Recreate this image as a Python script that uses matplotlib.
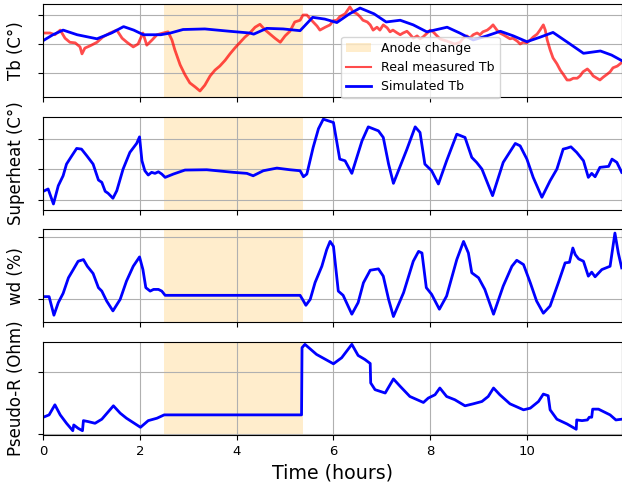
import matplotlib
matplotlib.use("Agg")
import matplotlib.pyplot as plt
import numpy as np

# anode change window (hours)
anode_start, anode_end = 2.5, 5.36

# Tb measured (red)
t_tb_real = [0, 0.14, 0.24, 0.35, 0.45, 0.55, 0.66, 0.76, 0.80, 0.86, 0.97, 1.11, 1.23, 1.38, 1.52,
             1.63, 1.73, 1.86, 1.96, 2.06, 2.14, 2.25, 2.35, 2.48, 2.58, 2.66, 2.72, 2.83, 2.93, 3.03,
             3.14, 3.24, 3.34, 3.45, 3.55, 3.65, 3.76, 3.86, 3.96, 4.07, 4.17, 4.27, 4.38, 4.48, 4.59,
             4.69, 4.79, 4.90, 5.00, 5.10, 5.20, 5.31, 5.37, 5.45, 5.58, 5.66, 5.72, 5.83, 5.93, 5.99,
             6.07, 6.13, 6.24, 6.34, 6.41, 6.49, 6.55, 6.61, 6.70, 6.76, 6.82, 6.90, 6.96, 7.03, 7.11,
             7.17, 7.23, 7.32, 7.38, 7.44, 7.52, 7.58, 7.65, 7.73, 7.79, 7.85, 7.94, 8.00, 8.06, 8.14,
             8.20, 8.27, 8.35, 8.41, 8.51, 8.62, 8.68, 8.76, 8.82, 8.89, 8.97, 9.03, 9.09, 9.18, 9.24,
             9.30, 9.38, 9.44, 9.51, 9.59, 9.65, 9.71, 9.80, 9.86, 9.92, 10.00, 10.07, 10.13, 10.21, 10.27,
             10.34, 10.38, 10.42, 10.48, 10.54, 10.62, 10.69, 10.75, 10.83, 10.89, 10.96, 11.04, 11.10, 11.16, 11.25,
             11.31, 11.37, 11.45, 11.51, 11.58, 11.66, 11.72, 11.78, 11.87, 11.93, 11.97]
tb_real = [961.9, 961.9, 961.6, 962.4, 961.0, 960.3, 960.2, 959.5, 958.3, 959.3, 959.7, 960.3, 961.2, 961.9, 962.4,
           961.0, 960.3, 959.5, 960.0, 961.9, 959.8, 960.7, 961.6, 961.9, 962.1, 960.7, 959.0, 956.4, 954.7, 953.3,
           952.6, 951.9, 952.9, 954.5, 955.5, 956.2, 957.2, 958.3, 959.3, 960.3, 961.2, 961.9, 962.9, 963.4, 962.4,
           961.7, 961.0, 960.3, 961.4, 962.2, 963.8, 964.1, 965.0, 965.0, 963.8, 963.1, 962.4, 962.9, 963.3, 964.0,
           964.1, 964.7, 965.2, 966.4, 965.5, 965.2, 964.7, 964.1, 963.8, 963.3, 962.4, 962.9, 962.4, 963.3, 962.8,
           962.1, 962.4, 961.9, 961.6, 961.9, 962.2, 961.7, 961.0, 961.4, 960.9, 961.2, 961.9, 962.4, 962.1, 961.4,
           960.9, 960.7, 960.5, 960.3, 960.0, 960.3, 961.0, 961.4, 961.0, 961.6, 961.9, 961.6, 962.1, 962.4, 962.8,
           963.3, 962.4, 961.9, 961.6, 961.2, 960.9, 961.0, 960.5, 960.0, 960.3, 960.2, 960.7, 961.2, 961.7, 962.4,
           963.3, 962.4, 960.7, 959.0, 957.6, 956.6, 955.5, 954.8, 953.8, 953.8, 954.1, 954.1, 954.5, 955.2, 955.7,
           955.2, 954.5, 954.1, 953.8, 954.3, 954.8, 955.2, 955.9, 956.2, 956.6, 956.9]

# Tb simulated (blue)
t_tb_sim = [0, 0.20, 0.41, 0.70, 1.11, 1.41, 1.66, 1.87, 2.07, 2.43, 2.63, 2.89, 3.34, 3.85, 4.27,
            4.35, 4.62, 4.96, 5.31, 5.57, 5.82, 6.07, 6.33, 6.55, 6.84, 7.09, 7.38, 7.65, 7.93, 8.35,
            8.61, 8.89, 9.17, 9.45, 9.72, 10.00, 10.28, 10.54, 10.84, 11.17, 11.52, 11.75, 11.97]
tb_sim = [960.6, 961.6, 962.4, 961.6, 960.9, 961.9, 963.0, 962.4, 961.6, 961.6, 961.9, 962.5, 962.6, 962.2, 961.9,
          961.7, 962.7, 962.6, 962.3, 964.6, 964.3, 963.7, 965.2, 966.2, 965.2, 963.8, 964.1, 963.3, 962.1, 962.9,
          961.9, 960.7, 961.4, 962.2, 961.4, 960.4, 961.2, 962.0, 960.3, 958.4, 958.8, 958.1, 957.1]

# superheat
t_sh = [0, 0.10, 0.21, 0.31, 0.41, 0.48, 0.59, 0.69, 0.79, 0.90, 1.03, 1.14, 1.21, 1.28, 1.34,
        1.44, 1.52, 1.65, 1.79, 1.93, 1.99, 2.04, 2.10, 2.17, 2.24, 2.31, 2.38, 2.45, 2.52, 2.69,
        2.93, 3.38, 3.93, 4.21, 4.34, 4.55, 4.83, 5.10, 5.31, 5.38, 5.45, 5.58, 5.69, 5.79, 6.00,
        6.13, 6.24, 6.38, 6.59, 6.72, 6.93, 7.03, 7.14, 7.24, 7.52, 7.69, 7.79, 7.89, 8.03, 8.17,
        8.34, 8.55, 8.72, 8.86, 8.96, 9.07, 9.29, 9.51, 9.76, 9.86, 10.00, 10.13, 10.31, 10.48, 10.62,
        10.75, 10.83, 10.91, 11.03, 11.17, 11.27, 11.34, 11.41, 11.51, 11.69, 11.76, 11.86, 11.96]
superheat = [6.41, 6.79, 4.35, 7.32, 8.94, 10.84, 12.19, 13.39, 13.28, 12.19, 10.84, 8.25, 7.87, 6.41, 6.09,
             5.28, 6.51, 10.03, 12.74, 14.20, 15.27, 11.38, 9.76, 9.06, 9.50, 9.33, 9.59, 9.22, 8.68, 9.22,
             9.87, 9.92, 9.50, 9.33, 8.94, 9.76, 10.19, 9.92, 9.76, 8.78, 9.22, 13.55, 16.6, 18.15, 17.61,
             11.65, 11.38, 9.33, 14.62, 16.90, 16.25, 15.18, 10.84, 7.71, 13.28, 16.90, 15.99, 10.84, 9.76, 7.60,
             11.38, 15.71, 15.18, 11.93, 11.12, 10.03, 5.70, 11.12, 14.20, 13.81, 11.65, 8.68, 5.44, 8.13, 10.03,
             13.28, 13.44, 13.65, 12.74, 11.38, 8.68, 9.33, 8.78, 10.31, 10.47, 11.65, 11.12, 9.50]

# wd
t_wd = [0, 0.12, 0.22, 0.31, 0.41, 0.52, 0.62, 0.72, 0.83, 0.91, 1.03, 1.14, 1.21, 1.31, 1.44,
        1.59, 1.72, 1.86, 1.99, 2.06, 2.12, 2.21, 2.28, 2.38, 2.45, 2.52, 5.31, 5.38, 5.43, 5.52,
        5.62, 5.76, 5.86, 5.93, 6.00, 6.10, 6.20, 6.38, 6.51, 6.62, 6.76, 6.93, 7.03, 7.14, 7.24,
        7.45, 7.65, 7.76, 7.83, 7.92, 8.03, 8.19, 8.34, 8.55, 8.69, 8.79, 8.86, 9.00, 9.13, 9.31,
        9.51, 9.69, 9.79, 9.93, 10.07, 10.20, 10.34, 10.48, 10.65, 10.79, 10.88, 10.95, 11.00, 11.07, 11.17,
        11.27, 11.34, 11.41, 11.55, 11.72, 11.82, 11.89, 11.96]
wd = [0.043, 0.043, -0.255, -0.053, 0.096, 0.346, 0.478, 0.611, 0.638, 0.531, 0.415, 0.187, 0.132, -0.027, -0.186,
      0.0, 0.292, 0.531, 0.681, 0.478, 0.187, 0.132, 0.159, 0.159, 0.132, 0.064, 0.064, -0.027, -0.096, 0.0,
      0.27, 0.531, 0.797, 0.930, 0.850, 0.132, 0.064, -0.239, -0.053, 0.266, 0.467, 0.489, 0.372, 0.0, -0.276,
      0.107, 0.611, 0.770, 0.744, 0.187, 0.080, -0.159, 0.053, 0.638, 0.930, 0.744, 0.426, 0.346, 0.159, -0.239,
      0.212, 0.531, 0.627, 0.558, 0.266, -0.027, -0.223, -0.107, 0.266, 0.585, 0.595, 0.824, 0.718, 0.649, 0.611,
      0.372, 0.436, 0.362, 0.478, 0.531, 1.064, 0.744, 0.505]

# pseudo resistance
t_pr = [0, 0.12, 0.24, 0.35, 0.48, 0.61, 0.63, 0.72, 0.81, 0.83, 0.93, 1.07, 1.21, 1.45, 1.59,
        1.72, 2.01, 2.17, 2.35, 2.50, 5.34, 5.35, 5.41, 5.65, 6.00, 6.17, 6.38, 6.51, 6.65, 6.76,
        6.77, 6.86, 7.07, 7.24, 7.38, 7.58, 7.86, 7.96, 8.10, 8.20, 8.34, 8.51, 8.72, 8.89, 9.07,
        9.20, 9.31, 9.44, 9.65, 9.93, 10.07, 10.24, 10.34, 10.44, 10.48, 10.62, 10.83, 11.02, 11.03, 11.14,
        11.25, 11.29, 11.34, 11.36, 11.48, 11.72, 11.84, 11.96]
pseudo_r = [0.272, 0.310, 0.473, 0.310, 0.174, 0.054, 0.147, 0.093, 0.054, 0.217, 0.201, 0.174, 0.240, 0.457, 0.338,
            0.256, 0.109, 0.217, 0.256, 0.310, 0.310, 1.398, 1.452, 1.289, 1.137, 1.235, 1.452, 1.272, 1.207, 1.142,
            0.827, 0.718, 0.664, 0.892, 0.772, 0.608, 0.511, 0.582, 0.636, 0.745, 0.608, 0.555, 0.457, 0.489, 0.527,
            0.608, 0.745, 0.636, 0.489, 0.392, 0.419, 0.527, 0.647, 0.620, 0.392, 0.240, 0.163, 0.077, 0.228, 0.217,
            0.228, 0.272, 0.272, 0.403, 0.403, 0.310, 0.228, 0.240]

fig, axs = plt.subplots(4, 1, figsize=(6.22, 4.93), dpi=100, sharex=True)
plt.subplots_adjust(left=0.0696, right=0.9995, top=0.9919, bottom=0.1176, hspace=0.205)

for ax in axs:
    ax.axvspan(anode_start, anode_end, color='orange', alpha=0.2, lw=0, label='Anode change')
    ax.grid(True)
    ax.tick_params(labelleft=False, labelsize=9.5)
    ax.set_xlim(0, 11.96)

ax = axs[0]
ax.plot(t_tb_real, tb_real, color='red', alpha=0.7, lw=2.0, label='Real measured Tb')
ax.plot(t_tb_sim, tb_sim, color='blue', lw=2, label='Simulated Tb')
ax.set_yticks([955, 960, 965])
ax.set_ylim(950.8, 966.9)
ax.set_ylabel('Tb (C°)', fontsize=12)
leg = ax.legend(loc='lower left', bbox_to_anchor=(0.515, -0.01), borderaxespad=0, fontsize=9)
leg.get_lines()[0].set_linewidth(1.5)

ax = axs[1]
ax.plot(t_sh, superheat, color='blue', lw=2)
ax.set_yticks([5, 10, 15])
ax.set_ylim(3.38, 18.58)
ax.set_ylabel('Superheat (C°)', fontsize=12)

ax = axs[2]
ax.plot(t_wd, wd, color='blue', lw=2)
ax.set_yticks([0, 1])
ax.set_ylim(-0.372, 1.128)
ax.set_ylabel('wd (%)', fontsize=12)

ax = axs[3]
ax.plot(t_pr, pseudo_r, color='blue', lw=2)
ax.set_yticks([0, 1])
ax.set_ylim(-0.016, 1.496)
ax.set_ylabel('Pseudo-R (Ohm)', fontsize=12)
ax.set_xticks([0, 2, 4, 6, 8, 10])
ax.set_xlabel('Time (hours)', fontsize=13.7)

for ax in axs:
    ax.yaxis.set_label_coords(-0.032, 0.5)

fig.savefig('out.png', dpi=100)
